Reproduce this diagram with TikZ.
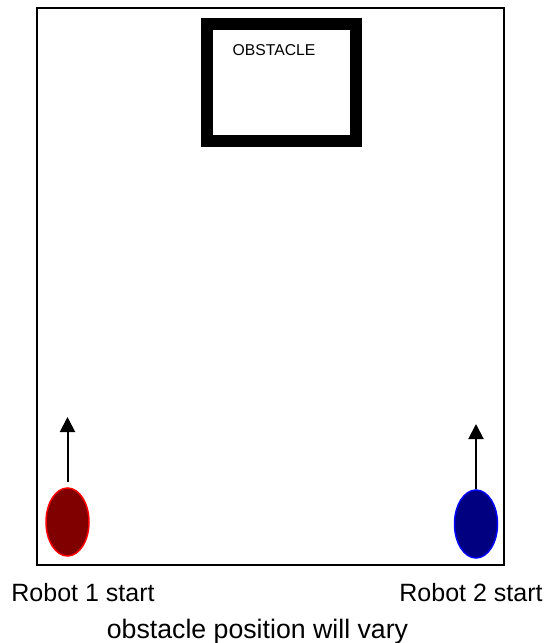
\documentclass[tikz,border=0pt]{standalone}
\usepackage{fontspec}
\setmainfont{Liberation Sans}
\usetikzlibrary{shapes.geometric,arrows.meta}
\begin{document}
\begin{tikzpicture}[x=1pt,y=-1pt,
  robot/.style={ellipse,draw,line width=1.5pt,minimum width=43pt,minimum height=68pt,inner sep=0pt},
  dirarrow/.style={line width=2pt,-{Triangle[width=15pt,length=15pt]}},
  lbl/.style={inner sep=0pt,anchor=base,font=\fontsize{25}{30}\selectfont}]
\useasboundingbox (0,0) rectangle (551,643);
\node[draw,line width=2pt,minimum width=467pt,minimum height=557pt,inner sep=0pt] (field) at (270.5,286.5) {};
\node[draw,line width=12pt,minimum width=149pt,minimum height=117pt,inner sep=0pt] (obst) at (281.5,82.5) {};
\node[inner sep=0pt,font=\fontsize{15.7}{18}\selectfont] (otxt) at (274,50) {OBSTACLE};
\node[robot,draw={rgb,255:red,255;green,0;blue,0},fill={rgb,255:red,128;green,0;blue,0}] (r1) at (67.5,522) {};
\node[robot,draw={rgb,255:red,0;green,0;blue,255},fill={rgb,255:red,0;green,0;blue,128}] (r2) at (476,524) {};
\coordinate (a1) at (67.5,417);
\coordinate (a2) at (476,424);
\draw[dirarrow] (r1.north) ++(0,-5) -- (a1);
\draw[dirarrow] (r2.north) -- (a2);
\node[lbl] (l1) at (83,601) {Robot 1 start};
\node[lbl] (l2) at (471,601) {Robot 2 start};
\node[lbl,font=\fontsize{26.7}{32}\selectfont] (l3) at (257.5,638) {obstacle position will vary};
\end{tikzpicture}
\end{document}
